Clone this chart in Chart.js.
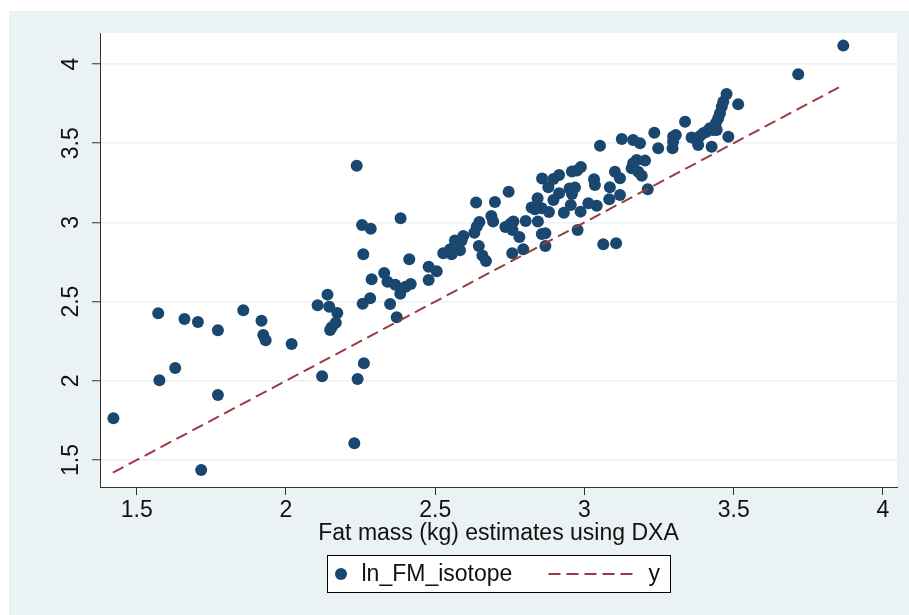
<!DOCTYPE html>
<html>
<head>
<meta charset="utf-8">
<script src="https://cdn.jsdelivr.net/npm/chart.js@4.4.1/dist/chart.umd.min.js"></script>
<style>
  html, body { margin: 0; padding: 0; background: #ffffff; }
  #wrap { width: 909px; height: 615px; }
</style>
</head>
<body>
<div id="wrap"><canvas id="Chart1" width="909" height="615"></canvas></div>
<script>
window.onload = function() {

    // log fat mass: DXA estimate (x) vs isotope estimate (y)
    var dxa = [
        1.422, 1.572, 1.576, 1.629, 1.660, 1.705, 1.716, 1.772, 1.772, 1.857,
        1.918, 1.924, 1.932, 2.019, 2.121, 2.106, 2.139, 2.145, 2.172, 2.167,
        2.153, 2.148, 2.229, 2.240, 2.261, 2.237, 2.255, 2.284, 2.259, 2.257,
        2.282, 2.287, 2.329, 2.340, 2.366, 2.349, 2.371, 2.384, 2.383, 2.401,
        2.418, 2.413, 2.478, 2.505, 2.478, 2.527, 2.550, 2.555, 2.566, 2.583,
        2.594, 2.588, 2.631, 2.639, 2.648, 2.637, 2.700, 2.746, 2.688, 2.694,
        2.646, 2.658, 2.670, 2.735, 2.751, 2.762, 2.759, 2.782, 2.803, 2.758,
        2.795, 2.844, 2.823, 2.843, 2.834, 2.857, 2.869, 2.869, 2.858, 2.879,
        2.896, 2.915, 2.881, 2.857, 2.896, 2.915, 2.931, 2.954, 2.958, 2.968,
        2.950, 2.958, 2.975, 2.988, 2.987, 2.977, 3.013, 3.041, 3.052, 3.032,
        3.035, 3.085, 3.083, 3.102, 3.119, 3.119, 3.063, 3.106, 3.125, 3.163,
        3.186, 3.163, 3.175, 3.203, 3.158, 3.180, 3.192, 3.212, 3.234, 3.247,
        3.297, 3.306, 3.297, 3.295, 3.337, 3.359, 3.376, 3.387, 3.381, 3.398,
        3.409, 3.420, 3.426, 3.431, 3.443, 3.440, 3.448, 3.454, 3.460, 3.465,
        3.476, 3.515, 3.482, 3.716, 3.867
    ];
    var isotope = [
        1.763, 2.426, 2.003, 2.081, 2.390, 2.371, 1.437, 2.319, 1.910, 2.445,
        2.379, 2.289, 2.256, 2.232, 2.028, 2.477, 2.544, 2.468, 2.428, 2.367,
        2.338, 2.321, 1.605, 2.011, 2.111, 3.358, 2.984, 2.960, 2.799, 2.487,
        2.521, 2.641, 2.681, 2.626, 2.607, 2.485, 2.401, 3.026, 2.550, 2.594,
        2.611, 2.767, 2.720, 2.691, 2.636, 2.805, 2.830, 2.799, 2.886, 2.824,
        2.914, 2.884, 2.935, 2.973, 3.003, 3.126, 3.129, 3.194, 3.040, 3.006,
        2.851, 2.791, 2.756, 2.971, 2.990, 3.006, 2.952, 2.908, 3.009, 2.805,
        2.831, 3.006, 3.094, 3.152, 3.083, 2.927, 2.931, 2.851, 3.277, 3.222,
        3.274, 3.299, 3.066, 3.089, 3.141, 3.184, 3.061, 3.110, 3.179, 3.220,
        3.214, 3.321, 3.328, 3.350, 3.068, 2.952, 3.121, 3.105, 3.484, 3.272,
        3.236, 3.222, 3.146, 3.320, 3.278, 3.173, 2.862, 2.868, 3.527, 3.520,
        3.499, 3.373, 3.394, 3.390, 3.342, 3.320, 3.295, 3.209, 3.566, 3.468,
        3.541, 3.552, 3.509, 3.468, 3.636, 3.536, 3.520, 3.545, 3.489, 3.563,
        3.573, 3.594, 3.478, 3.583, 3.583, 3.626, 3.657, 3.689, 3.730, 3.762,
        3.811, 3.746, 3.541, 3.935, 4.116
    ];

    // reference line y
    var lineX = [1.42, 3.87];
    var lineY = [1.42, 3.87];

    var xTicks = [1.5, 2, 2.5, 3, 3.5, 4];
    var yTicks = [1.5, 2, 2.5, 3, 3.5, 4];

    var navy = "#1a476f";
    var maroon = "#9b3a3f";
    var bluishGray = "#eaf2f3";
    var inkColor = "#111111";
    var fontFamily = "'Liberation Sans', Arial, sans-serif";

    var scatterPoints = dxa.map(function(v, i) { return { x: v, y: isotope[i] }; });
    var linePoints = lineX.map(function(v, i) { return { x: v, y: lineY[i] }; });

    Chart.defaults.font.family = fontFamily;
    Chart.defaults.font.size = 23;
    Chart.defaults.color = inkColor;

    // grey graph region with a white plot region on top
    var backdrop = {
        id: "backdrop",
        beforeDraw: function(chart) {
            var c = chart.ctx, a = chart.chartArea;
            c.save();
            c.fillStyle = "#ffffff";
            c.fillRect(0, 0, chart.width, chart.height);
            c.fillStyle = bluishGray;
            c.fillRect(9, 11, chart.width - 9, chart.height - 11);
            c.fillStyle = "#ffffff";
            c.fillRect(a.left, a.top, a.right - a.left, a.bottom - a.top);
            c.restore();
        }
    };

    // boxed legend under the axis title
    var boxLegend = {
        id: "boxLegend",
        afterDraw: function(chart) {
            var c = chart.ctx, a = chart.chartArea;
            var ds = chart.data.datasets;
            var w = 343, h = 37;
            var left = Math.round((a.left + a.right) / 2 - w / 2) + 0.5;
            var top = 555.5;
            var mid = top + h / 2;
            c.save();
            c.fillStyle = "#ffffff";
            c.fillRect(left, top, w, h);
            c.strokeStyle = "#000000";
            c.lineWidth = 1;
            c.strokeRect(left, top, w, h);

            c.fillStyle = ds[0].backgroundColor;
            c.beginPath();
            c.arc(left + 13.5, mid, 6, 0, Math.PI * 2);
            c.fill();

            c.font = "23px " + fontFamily;
            c.fillStyle = inkColor;
            c.textBaseline = "middle";
            c.textAlign = "left";
            c.fillText(ds[0].label, left + 34, mid + 1);

            c.strokeStyle = ds[1].borderColor;
            c.lineWidth = 2;
            c.setLineDash([12, 6]);
            c.beginPath();
            c.moveTo(left + 221, mid);
            c.lineTo(left + 309, mid);
            c.stroke();
            c.setLineDash([]);

            c.fillText(ds[1].label, left + 321, mid + 1);
            c.restore();
        }
    };

    var ctx = document.getElementById("Chart1").getContext("2d");
    var myChart = new Chart(ctx, {
        type: "scatter",
        data: {
            datasets: [{
                label: "ln_FM_isotope",
                data: scatterPoints,
                backgroundColor: navy,
                borderColor: navy,
                borderWidth: 0,
                pointRadius: 6,
                pointHoverRadius: 6,
                order: 2
            }, {
                type: "line",
                label: "y",
                data: linePoints,
                borderColor: maroon,
                borderWidth: 2,
                borderDash: [12, 6],
                pointRadius: 0,
                fill: false,
                order: 1
            }]
        },
        options: {
            responsive: false,
            animation: false,
            layout: {
                padding: { left: 0, top: 33, right: 12, bottom: 68 }
            },
            scales: {
                x: {
                    type: "linear",
                    min: 1.377,
                    max: 4.047,
                    afterBuildTicks: function(scale) {
                        scale.ticks = xTicks.map(function(v) { return { value: v }; });
                    },
                    afterFit: function(scale) { scale.height = 60; },
                    grid: {
                        drawOnChartArea: false,
                        tickLength: 8,
                        tickColor: "#333333",
                        tickWidth: 1
                    },
                    border: { color: "#333333", width: 1 },
                    ticks: {
                        padding: 2,
                        maxRotation: 0,
                        color: inkColor,
                        callback: function(v) { return String(v); }
                    },
                    title: {
                        display: true,
                        text: "Fat mass (kg) estimates using DXA",
                        color: inkColor,
                        padding: { top: 0, bottom: 0 }
                    }
                },
                y: {
                    type: "linear",
                    min: 1.3295,
                    max: 4.1957,
                    afterBuildTicks: function(scale) {
                        scale.ticks = yTicks.map(function(v) { return { value: v }; });
                    },
                    afterFit: function(scale) { scale.width = 100; },
                    grid: {
                        color: bluishGray,
                        lineWidth: 1.5,
                        tickLength: 8,
                        tickColor: "#333333",
                        tickWidth: 1
                    },
                    border: { color: "#333333", width: 1 },
                    ticks: {
                        padding: 4,
                        minRotation: 90,
                        maxRotation: 90,
                        crossAlign: "center",
                        color: inkColor,
                        callback: function(v) { return String(v); }
                    }
                }
            },
            plugins: {
                legend: { display: false },
                tooltip: { enabled: false }
            }
        },
        plugins: [backdrop, boxLegend]
    });

}
</script>
</body>
</html>
